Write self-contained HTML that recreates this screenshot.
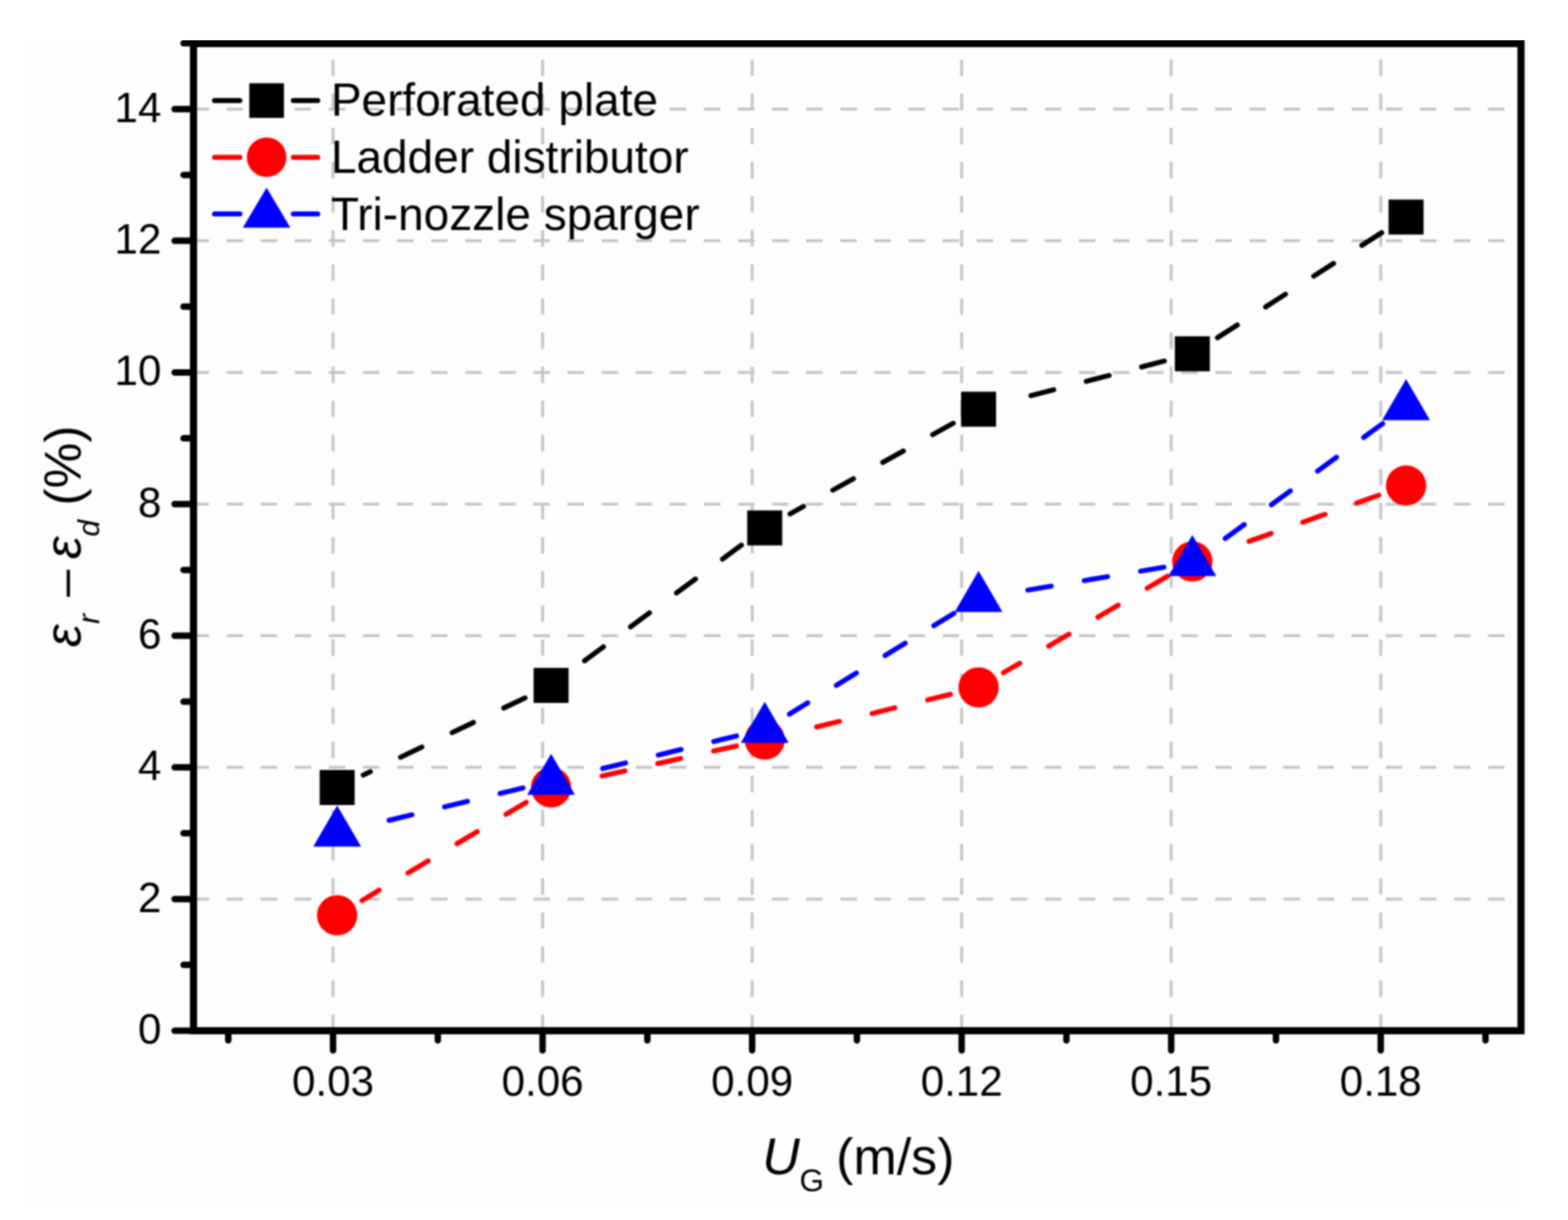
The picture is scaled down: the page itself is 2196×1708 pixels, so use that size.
<!DOCTYPE html>
<html><head><meta charset="utf-8"><title>chart</title>
<style>html,body{margin:0;padding:0;background:#fff;overflow:hidden;}svg{display:block;}#wrap{filter:blur(1px);width:2196px;height:1708px;}#topw{position:absolute;left:0;top:0;width:2196px;height:56px;background:#fff;}</style>
</head><body>
<div id="wrap"><svg width="2196" height="1708" viewBox="0 0 2196 1708">
<rect x="0" y="0" width="2196" height="1708" fill="#ffffff"/>
<rect x="35" y="56" width="2091" height="1626" fill="#fdfdfd"/>
<path d="M269.6 1258.68H2126M269.6 1074.36H2126M269.6 890.04H2126M269.6 705.72H2126M269.6 521.40H2126M269.6 337.08H2126M269.6 152.76H2126M466.44 83.4V1440M759.90 83.4V1440M1053.36 83.4V1440M1346.82 83.4V1440M1640.28 83.4V1440M1933.74 83.4V1440" stroke="#c4c4c4" stroke-width="4" stroke-dasharray="23 24.75" fill="none"/>
<path d="M735.25 977.04L508.75 1085.06M1038.40 763.13L804.40 935.57M1335.09 592.55L1106.41 719.45M1630.70 505.46L1409.70 562.74M1935.08 325.72L1704.02 473.48" stroke="#000" stroke-width="7" stroke-linecap="round" stroke-dasharray="33 47" fill="none"/>
<rect x="447.70" y="1078.00" width="49" height="49" fill="#000"/><rect x="747.30" y="935.10" width="49" height="49" fill="#000"/><rect x="1046.50" y="714.60" width="49" height="49" fill="#000"/><rect x="1346.00" y="548.40" width="49" height="49" fill="#000"/><rect x="1645.40" y="470.80" width="49" height="49" fill="#000"/><rect x="1944.70" y="279.40" width="49" height="49" fill="#000"/>
<path d="M737.03 1123.17L506.97 1260.63M1031.48 1044.34L811.32 1093.56M1331.15 972.00L1110.35 1025.90M1635.00 806.65L1405.40 941.85M1931.04 693.27L1708.06 772.53" stroke="#f00" stroke-width="7" stroke-linecap="round" stroke-dasharray="33 47" fill="none"/>
<circle cx="472.20" cy="1281.40" r="28.2" fill="#f00"/><circle cx="771.80" cy="1102.40" r="28.2" fill="#f00"/><circle cx="1071.00" cy="1035.50" r="28.2" fill="#f00"/><circle cx="1370.50" cy="962.40" r="28.2" fill="#f00"/><circle cx="1669.90" cy="786.10" r="28.2" fill="#f00"/><circle cx="1969.20" cy="679.70" r="28.2" fill="#f00"/>
<path d="M732.44 1103.04L511.56 1156.56M1031.65 1030.36L811.15 1083.94M1335.95 858.82L1105.55 999.68M1629.96 794.11L1410.44 830.99M1936.48 592.97L1702.62 763.53" stroke="#00f" stroke-width="7" stroke-linecap="round" stroke-dasharray="33 47" fill="none"/>
<path d="M472.20 1127.77L505.70 1185.27L438.70 1185.27ZM771.80 1055.17L805.30 1112.67L738.30 1112.67ZM1071.00 982.47L1104.50 1039.97L1037.50 1039.97ZM1370.50 799.37L1404.00 856.87L1337.00 856.87ZM1669.90 749.07L1703.40 806.57L1636.40 806.57ZM1969.20 530.77L2002.70 588.27L1935.70 588.27Z" fill="#00f"/>
<path d="M271 61H2130.2V1443H271Z" stroke="#000" stroke-width="10" fill="none" stroke-linejoin="miter"/>
<path d="M271 1443.00H244.5M271 1350.84H257M271 1258.68H244.5M271 1166.52H257M271 1074.36H244.5M271 982.20H257M271 890.04H244.5M271 797.88H257M271 705.72H244.5M271 613.56H257M271 521.40H244.5M271 429.24H257M271 337.08H244.5M271 244.92H257M271 152.76H244.5M271 60.60H257M319.71 1443V1456.5M466.44 1443V1470.5M613.17 1443V1456.5M759.90 1443V1470.5M906.63 1443V1456.5M1053.36 1443V1470.5M1200.09 1443V1456.5M1346.82 1443V1470.5M1493.55 1443V1456.5M1640.28 1443V1470.5M1787.01 1443V1456.5M1933.74 1443V1470.5M2080.47 1443V1456.5" stroke="#000" stroke-width="9" stroke-linecap="round" fill="none"/>
<text x="226" y="1461.00" font-family="Liberation Sans, Arial, sans-serif" font-size="59" text-anchor="end">0</text>
<text x="226" y="1276.68" font-family="Liberation Sans, Arial, sans-serif" font-size="59" text-anchor="end">2</text>
<text x="226" y="1092.36" font-family="Liberation Sans, Arial, sans-serif" font-size="59" text-anchor="end">4</text>
<text x="226" y="908.04" font-family="Liberation Sans, Arial, sans-serif" font-size="59" text-anchor="end">6</text>
<text x="226" y="723.72" font-family="Liberation Sans, Arial, sans-serif" font-size="59" text-anchor="end">8</text>
<text x="226" y="539.40" font-family="Liberation Sans, Arial, sans-serif" font-size="59" text-anchor="end">10</text>
<text x="226" y="355.08" font-family="Liberation Sans, Arial, sans-serif" font-size="59" text-anchor="end">12</text>
<text x="226" y="170.76" font-family="Liberation Sans, Arial, sans-serif" font-size="59" text-anchor="end">14</text>
<text x="466.44" y="1533.5" font-family="Liberation Sans, Arial, sans-serif" font-size="59" text-anchor="middle">0.03</text>
<text x="759.90" y="1533.5" font-family="Liberation Sans, Arial, sans-serif" font-size="59" text-anchor="middle">0.06</text>
<text x="1053.36" y="1533.5" font-family="Liberation Sans, Arial, sans-serif" font-size="59" text-anchor="middle">0.09</text>
<text x="1346.82" y="1533.5" font-family="Liberation Sans, Arial, sans-serif" font-size="59" text-anchor="middle">0.12</text>
<text x="1640.28" y="1533.5" font-family="Liberation Sans, Arial, sans-serif" font-size="59" text-anchor="middle">0.15</text>
<text x="1933.74" y="1533.5" font-family="Liberation Sans, Arial, sans-serif" font-size="59" text-anchor="middle">0.18</text>
<path d="M300.4 140.8H336M410.8 140.8H445" stroke="#000" stroke-width="7" stroke-linecap="round"/>
<path d="M300.4 220.2H336M410.8 220.2H445" stroke="#f00" stroke-width="7" stroke-linecap="round"/>
<path d="M300.4 299.4H336M410.8 299.4H445" stroke="#00f" stroke-width="7" stroke-linecap="round"/>
<rect x="349.15" y="116.55000000000001" width="48.5" height="48.5" fill="#000"/>
<circle cx="373.4" cy="220.2" r="27.7" fill="#f00"/>
<path d="M373.4 262.8L406.7 318.8L340.09999999999997 318.8Z" fill="#00f"/>
<text x="463.4" y="162.4" font-family="Liberation Sans, Arial, sans-serif" font-size="64.4">Perforated plate</text>
<text x="463.4" y="241.8" font-family="Liberation Sans, Arial, sans-serif" font-size="64.4">Ladder distributor</text>
<text x="463.4" y="322.0" font-family="Liberation Sans, Arial, sans-serif" font-size="64.4">Tri-nozzle sparger</text>
<text y="1643.5" font-family="Liberation Sans, Arial, sans-serif" font-size="72.8"><tspan x="1067.6" font-style="italic">U</tspan><tspan x="1119.8" y="1668.3" font-size="44">G</tspan><tspan x="1171" y="1643.5">(m/s)</tspan></text>
<g transform="translate(113 906) rotate(-90)"><text y="0" font-family="Liberation Sans, Arial, sans-serif" font-size="72"><tspan x="0" font-style="italic">ε</tspan><tspan x="32.4" y="25.5" font-size="42" font-style="italic">r</tspan><tspan x="70.6" y="0" font-size="68">–</tspan><tspan x="123.2" font-style="italic">ε</tspan><tspan x="154.7" y="25.5" font-size="42" font-style="italic">d</tspan><tspan x="198.3" y="0">(%)</tspan></text></g>
</svg></div><div id="topw"></div>
</body></html>
